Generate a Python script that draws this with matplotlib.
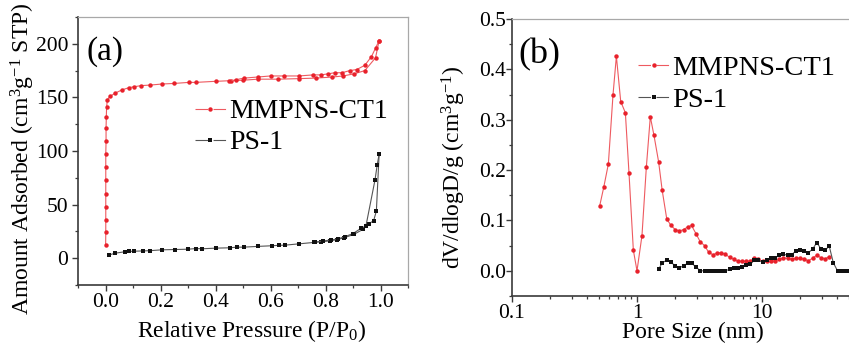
import matplotlib
matplotlib.use("Agg")
import matplotlib.pyplot as plt
from matplotlib.lines import Line2D
from matplotlib.ticker import MultipleLocator, LogLocator, FixedLocator, FixedFormatter, NullFormatter

# ---------------- data: panel (a) N2 isotherms ----------------
red_ads_p = [0.0005, 0.001, 0.001, 0.001, 0.001, 0.001, 0.001, 0.001, 0.002, 0.002, 0.003, 0.004,
             0.007, 0.017, 0.035, 0.06, 0.084, 0.105, 0.13, 0.163, 0.206, 0.248, 0.303, 0.328,
             0.4, 0.456, 0.5, 0.553, 0.628, 0.703, 0.764, 0.825, 0.864, 0.904, 0.943, 0.982, 0.995]
red_ads_v = [12, 24, 36, 48, 60, 73, 85, 97, 109, 121, 132, 141,
             148, 151, 154, 157, 159, 160, 161, 161.5, 162.5, 163, 164, 164,
             165, 165.6, 166, 167, 167, 167.5, 168, 169, 170, 172, 175, 187, 203]
red_des_p = [0.995, 0.982, 0.967, 0.943, 0.914, 0.888, 0.86, 0.833, 0.81, 0.784, 0.756,
             0.703, 0.65, 0.6, 0.553, 0.504, 0.474, 0.45]
red_des_v = [203, 196, 188, 180, 176, 175, 173, 173, 172, 171, 171,
             170, 170, 170, 169, 168, 166.5, 165]

blk_ads_p = [0.012, 0.036, 0.07, 0.085, 0.103, 0.136, 0.161, 0.204, 0.252, 0.301, 0.328, 0.352,
             0.403, 0.452, 0.477, 0.502, 0.553, 0.604, 0.63, 0.654, 0.704, 0.757, 0.785, 0.816,
             0.84, 0.868, 0.903, 0.937, 0.957, 0.975, 0.985, 0.995]
blk_ads_v = [3, 4.7, 6, 6.3, 6.5, 6.8, 7, 7.8, 8.1, 8.4, 9, 8.8,
             9.4, 9.7, 10.3, 10.3, 11, 11.6, 12, 12.2, 13.4, 14.7, 15.3, 16.2,
             17.2, 19.1, 22.2, 27, 32, 35, 44, 97]
blk_des_p = [0.995, 0.988, 0.98, 0.947, 0.93, 0.9, 0.87, 0.845, 0.82, 0.79, 0.76]
blk_des_v = [97, 87, 73, 30, 28, 23, 20, 18, 17, 16, 15]

# ---------------- data: panel (b) pore size distribution ----------------
red_d = [0.503, 0.542, 0.59, 0.643, 0.684, 0.741, 0.807, 0.863, 0.935, 1.0, 1.096, 1.188, 1.278,
         1.367, 1.49, 1.59, 1.73, 1.87, 2.02, 2.18, 2.36, 2.54, 2.73, 2.96, 3.2, 3.47, 3.74,
         4.04, 4.36, 4.72, 5.08, 5.5, 5.92, 6.41, 6.9, 7.47, 8.04, 8.67, 9.34, 10.1, 10.9,
         11.8, 12.7, 13.7, 14.8, 16.0, 17.3, 18.7, 20.2, 21.8, 23.5, 25.4, 27.4, 29.6, 32.0, 34.5]
red_dv = [0.129, 0.166, 0.212, 0.350, 0.426, 0.336, 0.314, 0.194, 0.041, 0.0, 0.070, 0.206, 0.306,
          0.269, 0.216, 0.160, 0.103, 0.090, 0.082, 0.079, 0.082, 0.087, 0.090, 0.074, 0.058, 0.050,
          0.037, 0.032, 0.035, 0.036, 0.033, 0.027, 0.023, 0.019, 0.019, 0.019, 0.019, 0.025,
          0.023, 0.019, 0.019, 0.019, 0.020, 0.023, 0.025, 0.025, 0.023, 0.025, 0.025, 0.023,
          0.020, 0.025, 0.031, 0.026, 0.024, 0.028]
blk_d = [1.49, 1.59, 1.73, 1.87, 2.02, 2.18, 2.36, 2.54, 2.73, 2.96, 3.2, 3.47, 3.74, 4.04, 4.36,
         4.72, 5.08, 5.5, 5.92, 6.41, 6.9, 7.47, 8.04, 8.67, 9.34, 10.1, 10.9, 11.8, 12.7, 13.7,
         14.8, 16.0, 17.3, 18.7, 20.2, 21.8, 23.5, 25.4, 27.4, 29.6, 32.0, 34.5, 37.2, 40.2,
         43.4, 46.9, 50.6]
blk_dv = [0.003, 0.016, 0.021, 0.017, 0.010, 0.006, 0.010, 0.015, 0.015, 0.008, 0.0, 0.0, 0.0,
          0.0, 0.0, 0.0, 0.0, 0.003, 0.005, 0.005, 0.007, 0.011, 0.013, 0.021, 0.021, 0.017,
          0.021, 0.025, 0.025, 0.031, 0.033, 0.031, 0.032, 0.040, 0.041, 0.040, 0.036, 0.043,
          0.056, 0.044, 0.041, 0.049, 0.016, 0.0, 0.0, 0.0, 0.0]

labels = ["MMPNS-CT1", "PS-1"]
xticks_a = [0.0, 0.2, 0.4, 0.6, 0.8, 1.0]
xticklabels_a = ["0.0", "0.2", "0.4", "0.6", "0.8", "1.0"]
yticks_a = [0, 50, 100, 150, 200]
xticks_b = [0.1, 1, 10, 100]
xticklabels_b = ["0.1", "1", "10", ""]
yticks_b = [0.0, 0.1, 0.2, 0.3, 0.4, 0.5]

# ---------------- style ----------------
plt.rcParams["font.family"] = ["Liberation Serif", "DejaVu Serif"]
plt.rcParams["mathtext.fontset"] = "custom"
plt.rcParams["mathtext.rm"] = "Liberation Serif"
plt.rcParams["mathtext.it"] = "Liberation Serif:italic"
plt.rcParams["mathtext.bf"] = "Liberation Serif:bold"
plt.rcParams["lines.scale_dashes"] = False

RED = "#e8212b"
RED_LINE = "#ee5a60"
BLK = "#111111"
BLK_LINE = "#555555"
SPINE_DARK = "#3a3a3a"
SPINE_LIGHT = "#a8a8a8"

W, H = 849, 345
fig = plt.figure(figsize=(W / 100, H / 100), dpi=100)

def px_axes(l, t, r, b):
    return fig.add_axes([l / W, 1 - b / H, (r - l) / W, (b - t) / H])

def style_axes(ax, ypad):
    for s in ("left", "bottom"):
        ax.spines[s].set_color(SPINE_DARK)
        ax.spines[s].set_linewidth(1.2)
    for s in ("top", "right"):
        ax.spines[s].set_color(SPINE_LIGHT)
        ax.spines[s].set_linewidth(0.9)
    ax.tick_params(which="major", direction="out", length=4, width=1.0, color=SPINE_DARK,
                   labelsize=15.5, top=False, right=False)
    ax.tick_params(which="minor", direction="out", length=2.5, width=0.9, color=SPINE_DARK,
                   top=False, right=False)
    ax.tick_params(axis="y", which="major", pad=ypad)
    ax.tick_params(axis="x", which="major", pad=2)

# ---------------- panel (a) ----------------
axa = px_axes(78, 17, 408, 285)
axa.plot(red_ads_p, red_ads_v, color=RED_LINE, lw=0.8, marker="o", ms=3.2,
         mfc=RED, mec=RED, mew=0)
axa.plot(red_des_p, red_des_v, color=RED_LINE, lw=0.8, marker="o", ms=3.2,
         mfc=RED, mec=RED, mew=0)
axa.plot(blk_ads_p, blk_ads_v, color=BLK_LINE, lw=0.8, marker="s", ms=3.0,
         mfc=BLK, mec=BLK, mew=0)
axa.plot(blk_des_p, blk_des_v, color=BLK_LINE, lw=0.8, marker="s", ms=3.0,
         mfc=BLK, mec=BLK, mew=0)
axa.set_xlim(-0.1, 1.1)
axa.set_ylim(-25, 225)
axa.xaxis.set_major_locator(FixedLocator(xticks_a))
axa.xaxis.set_major_formatter(FixedFormatter(xticklabels_a))
axa.xaxis.set_minor_locator(MultipleLocator(0.1))
axa.yaxis.set_major_locator(FixedLocator(yticks_a))
axa.yaxis.set_minor_locator(MultipleLocator(25))
style_axes(axa, 3)
axa.set_xlabel("Relative Pressure (P/P$_0$)", fontsize=17)
axa.xaxis.set_label_coords(0.526, -0.125)
axa.set_ylabel("Amount Adsorbed (cm$^3$g$^{-1}$ STP)", fontsize=17)
axa.yaxis.set_label_coords(-0.125, 0.47)
axa.text(0.025, 0.93, "(a)", transform=axa.transAxes, fontsize=24, ha="left", va="top")

# ---------------- panel (b) ----------------
axb = px_axes(512, 19, 887, 296)
axb.plot(red_d, red_dv, color=RED_LINE, lw=0.8, marker="o", ms=3.2,
         mfc=RED, mec=RED, mew=0)
axb.plot(blk_d, blk_dv, color=BLK_LINE, lw=0.8, marker="s", ms=3.0,
         mfc=BLK, mec=BLK, mew=0)
axb.set_xscale("log")
axb.set_xlim(0.1, 100)
axb.set_ylim(-0.05, 0.5)
axb.xaxis.set_major_locator(FixedLocator(xticks_b))
axb.xaxis.set_major_formatter(FixedFormatter(xticklabels_b))
axb.xaxis.set_minor_locator(LogLocator(base=10, subs=(2, 3, 4, 5, 6, 7, 8, 9)))
axb.xaxis.set_minor_formatter(NullFormatter())
axb.yaxis.set_major_locator(FixedLocator(yticks_b))
axb.yaxis.set_major_formatter(FixedFormatter(["%.1f" % v for v in yticks_b]))
axb.yaxis.set_minor_locator(MultipleLocator(0.05))
style_axes(axb, 0.5)
axb.set_xlabel("Pore Size (nm)", fontsize=17)
axb.xaxis.set_label_coords(0.483, -0.092)
axb.set_ylabel("dV/dlogD/g (cm$^3$g$^{-1}$)", fontsize=17)
axb.yaxis.set_label_coords(-0.117, 0.466)
axb.text(0.018, 0.93, "(b)", transform=axb.transAxes, fontsize=26, ha="left", va="top")

# ---------------- legends ----------------
def make_handles():
    h1 = Line2D([], [], color=RED_LINE, lw=0.8, dashes=(9, 4), marker="o", ms=3.2,
                mfc=RED, mec=RED, mew=0)
    h2 = Line2D([], [], color=BLK_LINE, lw=0.8, dashes=(9, 4), marker="s", ms=3.0,
                mfc=BLK, mec=BLK, mew=0)
    return [h1, h2]

fig.legend(make_handles(), labels, loc="upper left", bbox_to_anchor=(195 / W, 1 - 99 / H),
           frameon=False, fontsize=20, handlelength=1.1, handletextpad=0.12,
           labelspacing=0.2, borderpad=0, borderaxespad=0)
fig.legend(make_handles(), labels, loc="upper left", bbox_to_anchor=(638 / W, 1 - 55 / H),
           frameon=False, fontsize=20.5, handlelength=1.1, handletextpad=0.1,
           labelspacing=0.2, borderpad=0, borderaxespad=0)

fig.savefig("out.png", dpi=100)
